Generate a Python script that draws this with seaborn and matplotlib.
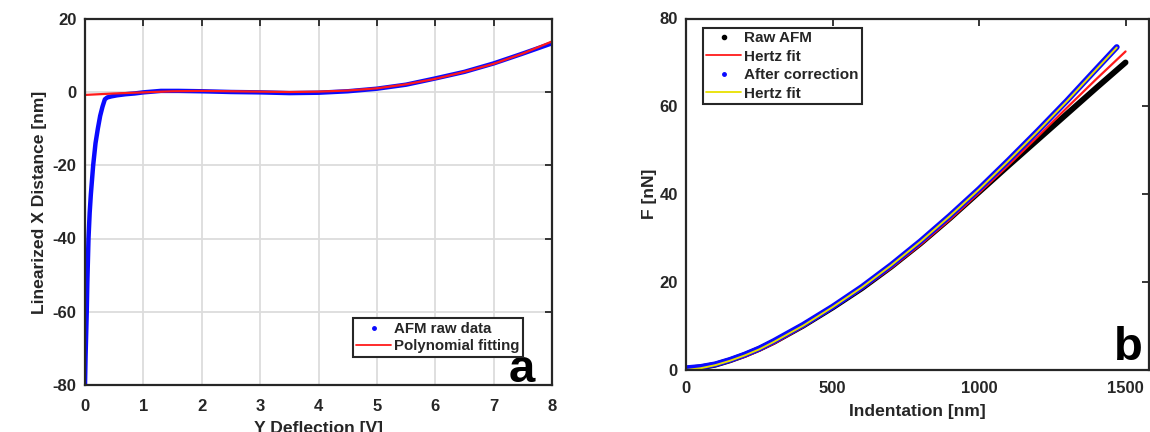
import numpy as np
import pandas as pd
import matplotlib
matplotlib.use("Agg")
import matplotlib.pyplot as plt
from matplotlib.lines import Line2D
import seaborn as sns

# ---- panel a: linearized X distance vs Y deflection ----
defl_raw = [0.00, 0.01, 0.02, 0.03, 0.04, 0.06, 0.08, 0.10, 0.14, 0.18, 0.22, 0.26,
            0.30, 0.34, 0.38, 0.45, 0.55, 0.70, 0.85, 1.00, 1.30, 1.60, 2.00, 2.50,
            3.00, 3.50, 4.00, 4.50, 5.00, 5.50, 6.00, 6.50, 7.00, 7.50, 8.00]
dist_raw = [-80.0, -72.0, -66.0, -60.0, -52.0, -40.0, -33.0, -28.0, -20.0, -14.0, -10.0, -6.5,
            -4.0, -2.0, -1.5, -1.2, -0.9, -0.6, -0.4, -0.1, 0.3, 0.3, 0.2, 0.0,
            -0.1, -0.3, -0.2, 0.2, 0.9, 2.0, 3.7, 5.5, 7.8, 10.5, 13.3]
defl_fit = [0.0, 0.5, 1.0, 1.5, 2.0, 2.5, 3.0, 3.5, 4.0, 4.5, 5.0, 5.5, 6.0, 6.5, 7.0, 7.5, 8.0]
dist_fit = [-0.8, -0.4, -0.1, 0.2, 0.3, 0.2, 0.1, 0.0, 0.1, 0.4, 1.0, 2.1, 3.6, 5.5, 7.7, 10.5, 13.8]

# ---- panel b: force vs indentation ----
ind_raw = [0, 50, 100, 150, 200, 250, 300, 400, 500, 600, 700, 800, 900, 1000,
           1100, 1200, 1300, 1400, 1500]
f_raw = [0.3, 0.6, 1.2, 2.2, 3.4, 4.8, 6.4, 10.1, 14.2, 18.6, 23.5, 28.8, 34.5, 40.5,
         46.5, 52.4, 58.3, 64.2, 70.0]
ind_hertz1 = [0, 50, 100, 150, 200, 250, 300, 400, 500, 600, 700, 800, 900, 1000,
              1100, 1200, 1300, 1400, 1500]
f_hertz1 = [0.0, 0.3, 1.0, 1.9, 3.0, 4.4, 6.0, 9.8, 14.0, 18.4, 23.2, 28.5, 34.2, 40.3,
            46.6, 53.1, 59.7, 66.2, 72.5]
ind_corr = [0, 50, 100, 150, 200, 250, 300, 400, 500, 600, 700, 800, 900, 1000,
            1100, 1200, 1300, 1400, 1470]
f_corr = [0.4, 0.7, 1.3, 2.3, 3.5, 4.9, 6.6, 10.3, 14.4, 18.9, 23.9, 29.3, 35.1, 41.2,
          47.7, 54.4, 61.3, 68.5, 73.5]
ind_hertz2 = [0, 50, 100, 150, 200, 250, 300, 400, 500, 600, 700, 800, 900, 1000,
              1100, 1200, 1300, 1400, 1470]
f_hertz2 = [0.0, 0.4, 1.1, 2.1, 3.3, 4.7, 6.4, 10.1, 14.3, 18.8, 23.8, 29.2, 35.0, 41.1,
            47.6, 54.3, 61.2, 68.4, 73.4]

x_ticks_a = [0, 1, 2, 3, 4, 5, 6, 7, 8]
y_ticks_a = [-80, -60, -40, -20, 0, 20]
x_ticks_b = [0, 500, 1000, 1500]
y_ticks_b = [0, 20, 40, 60, 80]

sns.set_style("white")
plt.rcParams["font.family"] = ["Liberation Sans", "DejaVu Sans"]
plt.rcParams["font.weight"] = "bold"
plt.rcParams["axes.labelweight"] = "bold"
plt.rcParams["axes.unicode_minus"] = False

INK = "#262626"
LABEL_SIZE = 12.6
TICK_SIZE = 12

fig = plt.figure(figsize=(11.5, 4.32), dpi=100)
ax_a = fig.add_axes([85 / 1150, 1 - 385 / 432, (552 - 85) / 1150, (385 - 18.75) / 432])
ax_b = fig.add_axes([686 / 1150, 1 - 370 / 432, (1149 - 686) / 1150, (370 - 18.5) / 432])


def style_axes(ax, pad):
    for s in ax.spines.values():
        s.set_color(INK)
        s.set_linewidth(1.6)
    ax.tick_params(axis="both", which="both", direction="in", length=5, width=1.3,
                   color=INK, labelcolor=INK, labelsize=TICK_SIZE, top=True, right=True)
    ax.tick_params(axis="x", pad=pad)
    ax.tick_params(axis="y", pad=6)
    for lab in ax.get_xticklabels() + ax.get_yticklabels():
        lab.set_fontweight("bold")


# panel a
ax_a.grid(True, color="#dcdcdc", linewidth=1.3)
ax_a.set_axisbelow(True)
df_a_raw = pd.DataFrame({"x": defl_raw, "y": dist_raw})
df_a_fit = pd.DataFrame({"x": defl_fit, "y": dist_fit})
sns.lineplot(data=df_a_raw, x="x", y="y", ax=ax_a, color="#0a0aff", linewidth=3.2,
             sort=False, estimator=None)
sns.lineplot(data=df_a_fit, x="x", y="y", ax=ax_a, color="#ff1a1a", linewidth=1.6,
             sort=False, estimator=None)
ax_a.set_xlim(0, 8)
ax_a.set_ylim(-80, 20)
ax_a.set_xticks(x_ticks_a)
ax_a.set_yticks(y_ticks_a)
ax_a.set_xlabel("Y Deflection [V]", fontsize=LABEL_SIZE, color=INK, labelpad=5)
ax_a.set_ylabel("Linearized X Distance [nm]", fontsize=LABEL_SIZE, color=INK, labelpad=4)
style_axes(ax_a, pad=10)
handles_a = [
    Line2D([], [], color="#0a0aff", marker=".", linestyle="none", markersize=5),
    Line2D([], [], color="#ff1a1a", linewidth=1.3),
]
leg_a = ax_a.legend(handles_a, ["AFM raw data", "Polynomial fitting"],
                    loc="lower right", bbox_to_anchor=((523 - 85) / 467, (385 - 357) / 366),
                    prop={"weight": "bold", "size": 10.8}, frameon=True,
                    fancybox=False, edgecolor=INK, framealpha=1,
                    handlelength=2.3, handletextpad=0.2, borderpad=0.25,
                    labelspacing=0.2, borderaxespad=0)
leg_a.get_frame().set_linewidth(1.5)
ax_a.text(0.936, 0.008, "a", transform=ax_a.transAxes, fontsize=34,
          fontweight="bold", color="black", ha="center", va="baseline")

# panel b
df_b_raw = pd.DataFrame({"x": ind_raw, "y": f_raw})
df_b_h1 = pd.DataFrame({"x": ind_hertz1, "y": f_hertz1})
df_b_corr = pd.DataFrame({"x": ind_corr, "y": f_corr})
df_b_h2 = pd.DataFrame({"x": ind_hertz2, "y": f_hertz2})
sns.lineplot(data=df_b_raw, x="x", y="y", ax=ax_b, color="black", linewidth=4.2,
             sort=False, estimator=None, solid_capstyle="round")
sns.lineplot(data=df_b_h1, x="x", y="y", ax=ax_b, color="#ff1a1a", linewidth=1.6,
             sort=False, estimator=None)
sns.lineplot(data=df_b_corr, x="x", y="y", ax=ax_b, color="#0a0aff", linewidth=4.2,
             sort=False, estimator=None, solid_capstyle="round")
sns.lineplot(data=df_b_h2, x="x", y="y", ax=ax_b, color="#e8e000", linewidth=1.4,
             sort=False, estimator=None)
ax_b.set_xlim(0, 1580)
ax_b.set_ylim(0, 80)
ax_b.set_xticks(x_ticks_b)
ax_b.set_yticks(y_ticks_b)
ax_b.set_xlabel("Indentation [nm]", fontsize=LABEL_SIZE, color=INK, labelpad=6)
ax_b.set_ylabel("F [nN]", fontsize=LABEL_SIZE, color=INK, labelpad=2)
style_axes(ax_b, pad=8)
handles_b = [
    Line2D([], [], color="black", marker=".", linestyle="none", markersize=6),
    Line2D([], [], color="#ff1a1a", linewidth=1.3),
    Line2D([], [], color="#0a0aff", marker=".", linestyle="none", markersize=5),
    Line2D([], [], color="#e8e000", linewidth=1.3),
]
leg_b = ax_b.legend(handles_b, ["Raw AFM", "Hertz fit", "After correction", "Hertz fit"],
                    loc="upper left", bbox_to_anchor=((703 - 686) / 463, (370 - 28) / 351.5),
                    prop={"weight": "bold", "size": 11}, frameon=True,
                    fancybox=False, edgecolor=INK, framealpha=1,
                    handlelength=2.3, handletextpad=0.2, borderpad=0.2,
                    labelspacing=0.3, borderaxespad=0)
leg_b.get_frame().set_linewidth(1.5)
ax_b.text(0.955, 0.028, "b", transform=ax_b.transAxes, fontsize=34,
          fontweight="bold", color="black", ha="center", va="baseline")

fig.savefig("out.png", dpi=100, facecolor="white")
